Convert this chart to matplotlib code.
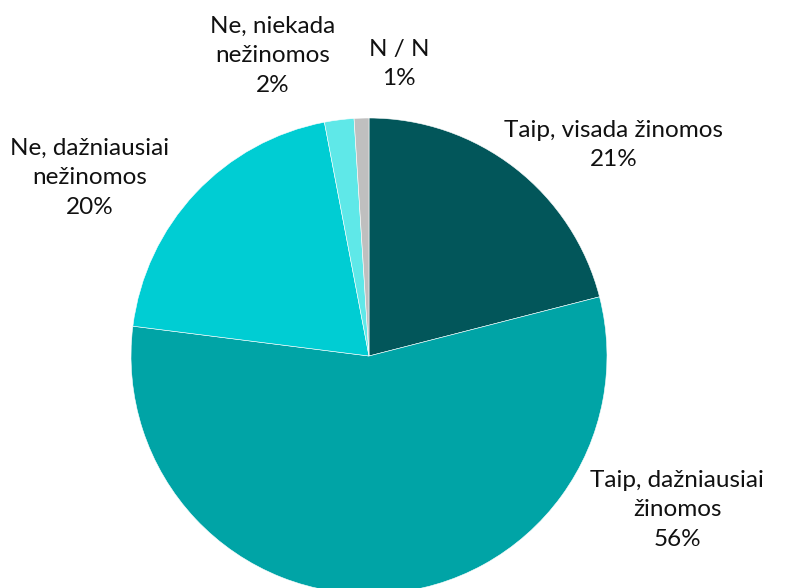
import numpy as np
import matplotlib.pyplot as plt

plt.rcParams['font.family'] = ['Lato', 'DejaVu Sans']

categories = ['Taip, visada žinomos', 'Taip, dažniausiai\nžinomos',
              'Ne, dažniausiai\nnežinomos', 'Ne, niekada\nnežinomos', 'N / N']
values = [21, 56, 20, 2, 1]
colors = ['#02565A', '#00A4A6', '#00CDD3', '#5FE8E8', '#BFBFBF']

# label centres in pixel coordinates (y from top)
label_pos = [(614, 145), (677, 510), (90, 178), (273, 56), (399, 64)]

fig = plt.figure(figsize=(7.87, 5.88), dpi=100)
ax = fig.add_axes([0, 0, 1, 1])
ax.pie(values, colors=colors, startangle=90, counterclock=False,
       center=(369, 588 - 356), radius=238,
       wedgeprops=dict(linewidth=0.4, edgecolor='white'))
ax.set_xlim(0, 787)
ax.set_ylim(0, 588)
ax.set_aspect('equal')
ax.axis('off')

for cat, val, (x, y) in zip(categories, values, label_pos):
    ax.text(x, 588 - y, f'{cat}\n{val}%', ha='center', va='center',
            fontsize=17.5, linespacing=1.52, color='#111111')

plt.savefig('out.png', dpi=100)
